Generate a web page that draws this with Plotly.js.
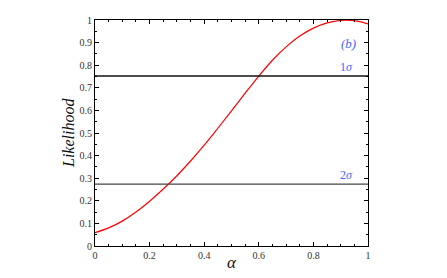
<!DOCTYPE html>
<html><head><meta charset="utf-8">
<script src="https://cdn.plot.ly/plotly-3.0.1.min.js"></script>
<style>body{margin:0;background:#fff}#p{width:447px;height:278px}</style>
</head><body><div id="p"></div>
<script>
var alpha = [0, 0.05, 0.1, 0.15, 0.2, 0.25, 0.3, 0.35, 0.4, 0.45, 0.5, 0.55, 0.6, 0.65, 0.7, 0.75, 0.8, 0.85, 0.9, 0.95, 1.0];
var likelihood = [0.059, 0.080, 0.110, 0.150, 0.198, 0.252, 0.311, 0.376, 0.446, 0.521, 0.598, 0.676, 0.752, 0.822, 0.881, 0.929, 0.964, 0.987, 0.998, 0.997, 0.983];
var sigma1 = 0.752, sigma2 = 0.274;
var xTicks = [0, 0.2, 0.4, 0.6, 0.8, 1];
var xTickText = ['0', '0.2', '0.4', '0.6', '0.8', '1'];
var yTicks = [0, 0.1, 0.2, 0.3, 0.4, 0.5, 0.6, 0.7, 0.8, 0.9, 1];
var yTickText = ['0', '0.1', '0.2', '0.3', '0.4', '0.5', '0.6', '0.7', '0.8', '0.9', '1'];

var fontFam = "Liberation Serif";
var traces = [
  {x: alpha, y: likelihood, mode: 'lines', line: {color: '#ff0000', width: 1.2, shape: 'spline', smoothing: 1}, hoverinfo: 'skip'},
  {x: [0, 1], y: [sigma1, sigma1], mode: 'lines', line: {color: '#111', width: 1.4}, hoverinfo: 'skip'},
  {x: [0, 1], y: [sigma2, sigma2], mode: 'lines', line: {color: '#444', width: 1.4}, hoverinfo: 'skip'}
];
function ax(extra) {
  var o = {
    showgrid: false, zeroline: false, showline: true, linecolor: '#000', linewidth: 1,
    mirror: 'ticks', ticks: 'inside', ticklen: 4, tickwidth: 1, tickcolor: '#000',
    tickfont: {family: fontFam, size: 10, color: '#333'}, tickmode: 'array', range: [0, 1],
    minor: {dtick: 0.05, ticks: 'inside', ticklen: 2, tickcolor: '#000', showgrid: false}
  };
  for (var k in extra) o[k] = extra[k];
  return o;
}
var layout = {
  width: 447, height: 278,
  margin: {l: 95, r: 79, t: 20, b: 32},
  paper_bgcolor: '#fff', plot_bgcolor: '#fff',
  showlegend: false,
  font: {family: fontFam, size: 12, color: '#333'},
  xaxis: ax({tickvals: xTicks, ticktext: xTickText}),
  yaxis: ax({tickvals: yTicks, ticktext: yTickText}),
  annotations: [
    {x: 0.5, y: -0.075, xref: 'paper', yref: 'paper', xanchor: 'center', yanchor: 'middle',
     text: '<i>α</i>', showarrow: false, font: {family: fontFam, size: 17, color: '#111'}},
    {x: -0.099, y: 0.5, xref: 'paper', yref: 'paper', xanchor: 'center', yanchor: 'middle', textangle: -90,
     text: '<i>Likelihood</i>', showarrow: false, font: {family: fontFam, size: 16, color: '#111'}},
    {x: 0.953, y: sigma1, xref: 'x', yref: 'y', xanchor: 'right', yanchor: 'bottom',
     text: '1<i>σ</i>', showarrow: false, font: {family: fontFam, size: 12, color: '#4466ff'}},
    {x: 0.953, y: sigma2, xref: 'x', yref: 'y', xanchor: 'right', yanchor: 'bottom',
     text: '2<i>σ</i>', showarrow: false, font: {family: fontFam, size: 12, color: '#4466ff'}},
    {x: 0.93, y: 0.898, xref: 'x', yref: 'y', xanchor: 'center', yanchor: 'middle',
     text: '<i>(b)</i>', showarrow: false, font: {family: fontFam, size: 13, color: '#4466ff'}}
  ]
};
Plotly.newPlot('p', traces, layout, {displayModeBar: false});
</script></body></html>
